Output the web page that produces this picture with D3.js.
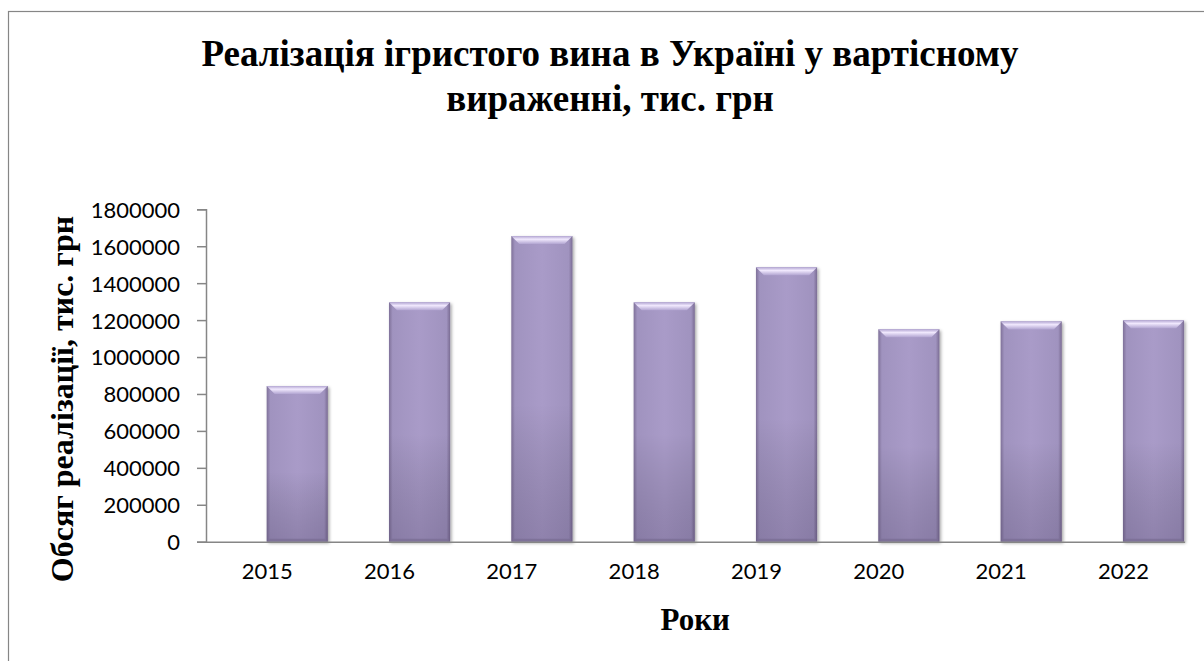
<!DOCTYPE html>
<html><head><meta charset="utf-8">
<script src="https://cdn.jsdelivr.net/npm/d3@7"></script>
<style>html,body{margin:0;padding:0;background:#fff;}svg{display:block;}</style>
</head><body>
<svg id="chart" width="1204" height="661"></svg>
<script>
const categories = ["2015","2016","2017","2018","2019","2020","2021","2022"];
const values = [843000, 1296000, 1655000, 1296000, 1486000, 1150000, 1193000, 1199000];
const yTicks = [0,200000,400000,600000,800000,1000000,1200000,1400000,1600000,1800000];
const titleLines = ["Реалізація ігристого вина в Україні у вартісному", "вираженні, тис. грн"];
const xTitle = "Роки";
const yTitle = "Обсяг реалізації, тис. грн";

const svg = d3.select("#chart");
const plot = {left: 206, right: 1184.6, top: 209.3, bottom: 541.7};

const defs = svg.append("defs");
const gH = defs.append("linearGradient").attr("id","barH").attr("x1","0").attr("x2","1").attr("y1","0").attr("y2","0");
[["0%","#7f7199"],["6%","#a093bf"],["50%","#a99bc8"],["94%","#a093bf"],["100%","#7a6c93"]]
  .forEach(s=>gH.append("stop").attr("offset",s[0]).attr("stop-color",s[1]));
const gV = defs.append("linearGradient").attr("id","barV").attr("x1","0").attr("x2","0").attr("y1","0").attr("y2","1");
[["0%","#ffffff",0.0],["55%","#000000",0.0],["100%","#2a1f40",0.2]]
  .forEach(s=>gV.append("stop").attr("offset",s[0]).attr("stop-color",s[1]).attr("stop-opacity",s[2]));
const gT = defs.append("linearGradient").attr("id","bevel").attr("x1","0").attr("x2","0").attr("y1","0").attr("y2","1");
[["0%","#b4a7d3"],["40%","#f0e8fd"],["100%","#b1a4d1"]]
  .forEach(s=>gT.append("stop").attr("offset",s[0]).attr("stop-color",s[1]));
const f = defs.append("filter").attr("id","shadow").attr("x","-20%").attr("y","-20%").attr("width","140%").attr("height","140%");
f.append("feDropShadow").attr("dx",1.5).attr("dy",1.5).attr("stdDeviation",1.5).attr("flood-color","#000").attr("flood-opacity",0.35);

// chart border
svg.append("rect").attr("x",8.5).attr("y",11.5).attr("width",1210).attr("height",670)
  .attr("fill","#fff").attr("stroke","#868686").attr("stroke-width",1.2);

const x = d3.scaleBand().domain(categories).range([plot.left, plot.right]).padding(0);
const y = d3.scaleLinear().domain([0,1800000]).range([plot.bottom, plot.top]);

// title
const title = svg.append("text").attr("text-anchor","middle")
  .attr("font-family","'Liberation Serif','Times New Roman',serif").attr("font-weight","bold")
  .attr("font-size",37).attr("fill","#000");
titleLines.forEach((t,i)=>title.append("tspan").attr("x",610).attr("y",66+i*45).text(t));

// y axis
const yAxis = svg.append("g").attr("transform",`translate(${plot.left},0)`)
  .call(d3.axisLeft(y).tickValues(yTicks).tickSize(9).tickPadding(17).tickFormat(d3.format("d")));
yAxis.select(".domain").attr("stroke","#868686").attr("stroke-width",1.5);
yAxis.selectAll(".tick line").attr("stroke","#868686").attr("stroke-width",1.5);
yAxis.selectAll("text").attr("font-family","Lato, 'Open Sans', sans-serif").attr("font-size",22).attr("fill","#000").attr("dy","0.36em");

// bars
const bw = x.bandwidth()/2;
const bars = svg.append("g").selectAll("g").data(values).join("g")
  .attr("transform",(d,i)=>`translate(${x(categories[i])+x.bandwidth()/2-0.5},0)`);
bars.append("rect").attr("x",0).attr("y",d=>y(d)).attr("width",bw).attr("height",d=>plot.bottom-y(d))
  .attr("fill","url(#barH)").attr("filter","url(#shadow)");
bars.append("rect").attr("x",0).attr("y",d=>y(d)).attr("width",bw).attr("height",d=>plot.bottom-y(d))
  .attr("fill","url(#barV)");
const bev = 8;
bars.append("polygon").attr("points",d=>{
  const t=y(d);
  return [[0,t],[bw,t],[bw-bev,t+bev],[bev,t+bev]].map(p=>p.join(",")).join(" ");
}).attr("fill","url(#bevel)");
bars.append("polygon").attr("points",d=>{
  const b=plot.bottom;
  return [[0,b],[bw,b],[bw-3,b-3],[3,b-3]].map(p=>p.join(",")).join(" ");
}).attr("fill","#7b6e95").attr("opacity",0.8);

// x axis
const xAxis = svg.append("g").attr("transform",`translate(0,${plot.bottom})`)
  .call(d3.axisBottom(x).tickSize(0).tickPadding(22));
xAxis.select(".domain").attr("stroke","#868686").attr("stroke-width",1.5);
xAxis.selectAll("text").attr("font-family","Lato, 'Open Sans', sans-serif").attr("font-size",22).attr("fill","#000");

// axis titles
svg.append("text").attr("x",(plot.left+plot.right)/2).attr("y",630).attr("text-anchor","middle")
  .attr("font-family","'Liberation Serif','Times New Roman',serif").attr("font-weight","bold")
  .attr("font-size",31).attr("fill","#000").text(xTitle);
svg.append("text").attr("transform","translate(73,399) rotate(-90)").attr("text-anchor","middle")
  .attr("font-family","'Liberation Serif','Times New Roman',serif").attr("font-weight","bold")
  .attr("font-size",32).attr("fill","#000").text(yTitle);
</script>
</body></html>
